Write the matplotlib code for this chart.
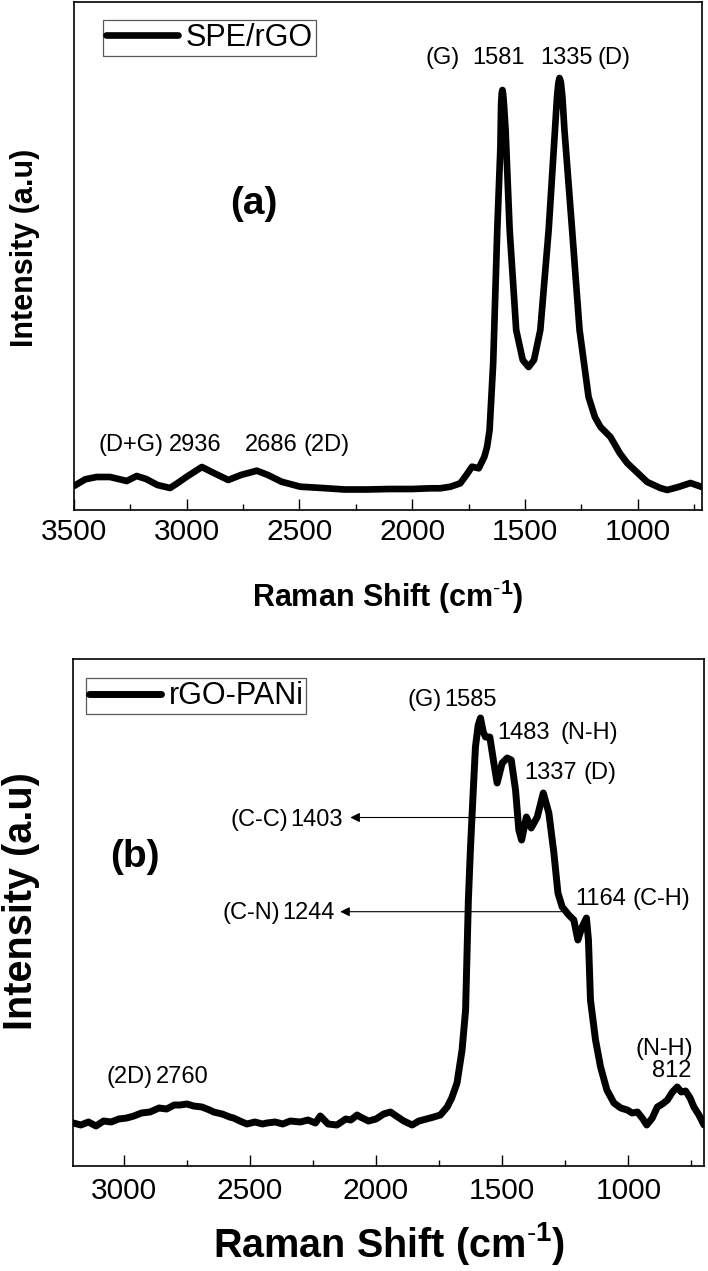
import matplotlib
matplotlib.use('Agg')
import matplotlib.pyplot as plt
from matplotlib.ticker import FixedLocator, MultipleLocator

plt.rcParams['font.family'] = ['Liberation Sans', 'DejaVu Sans']
plt.rcParams['mathtext.fontset'] = 'custom'
plt.rcParams['mathtext.rm'] = 'Liberation Sans'
plt.rcParams['mathtext.bf'] = 'Liberation Sans:bold'

# ---------------- data: panel (a) SPE/rGO ----------------
a_shift = [3500, 3450, 3400, 3340, 3266, 3222, 3180, 3130, 3074, 3040, 3000, 2933,
           2880, 2816, 2760, 2689, 2640, 2580, 2497, 2400, 2300, 2200, 2100, 2000,
           1920, 1876, 1830, 1787, 1760, 1735, 1705, 1680, 1668, 1657, 1641, 1623,
           1609, 1606, 1603, 1600, 1597, 1593, 1586, 1568, 1539, 1510, 1484, 1460,
           1432, 1395, 1367, 1358, 1352, 1347, 1341, 1334, 1325, 1291, 1258, 1218,
           1190, 1165, 1121, 1080, 1047, 1000, 958, 900, 869, 820, 766, 715]
a_intensity = [24, 30.7, 33, 33, 29, 34, 31, 25, 22, 27, 33.3, 43,
               37, 30, 35, 39.3, 35, 28.3, 23.3, 22, 20.5, 20.5, 21, 21,
               21.7, 21.7, 23.3, 26.7, 35, 43.3, 41.7, 53.3, 63.3, 80, 147, 280,
               363, 405, 417, 420, 416, 405, 380, 280, 180, 150, 143, 150,
               180, 280, 380, 413, 427, 432, 428, 413, 380, 280, 180, 113,
               93, 83, 73, 57, 47, 37, 28, 22, 20, 23, 27, 23]

# ---------------- data: panel (b) rGO-PANi ----------------
b_shift = [3200, 3170, 3140, 3110, 3080, 3050, 3020, 2988, 2960, 2930, 2896, 2860,
           2830, 2800, 2777, 2750, 2723, 2690, 2660, 2644, 2610, 2580, 2565, 2540,
           2512, 2480, 2450, 2433, 2400, 2370, 2340, 2300, 2270, 2240, 2221, 2190,
           2155, 2120, 2100, 2075, 2062, 2030, 2000, 1970, 1943, 1920, 1890, 1857,
           1830, 1800, 1771, 1745, 1718, 1700, 1679, 1659, 1645, 1640, 1634, 1626,
           1619, 1606, 1595, 1586, 1575, 1566, 1549, 1533, 1520, 1500, 1480, 1464,
           1447, 1434, 1423, 1404, 1385, 1361, 1337, 1315, 1295, 1279, 1262, 1236,
           1216, 1200, 1185, 1166, 1158, 1150, 1130, 1110, 1085, 1057, 1030, 1004,
           985, 964, 945, 927, 905, 885, 865, 845, 825, 806, 790, 773,
           755, 740, 720, 700]
b_intensity = [43, 41, 44, 40, 45, 44, 47, 48, 50, 53, 54, 58,
               57, 61, 61, 62, 60, 59, 56, 54, 52, 49, 48, 45,
               42, 44, 42, 43, 44, 42, 45, 44, 46, 43, 50, 42,
               41, 47, 46, 51, 49, 45, 47, 52, 54, 50, 45, 41,
               45, 47, 49, 51, 59, 68, 83, 116, 156, 206, 266, 316,
               353, 419, 441, 448, 434, 429, 429, 403, 383, 403, 408, 406,
               376, 336, 326, 349, 338, 349, 373, 353, 313, 273, 259, 251,
               246, 226, 238, 248, 226, 166, 126, 99, 76, 63, 58, 56,
               53, 54, 48, 41, 48, 59, 62, 66, 74, 79, 74, 75,
               68, 59, 51, 41]

a_ticks = [3500, 3000, 2500, 2000, 1500, 1000]
b_ticks = [3000, 2500, 2000, 1500, 1000]

# peak annotations: (text, shift of left edge, intensity of text centre)
a_notes = [("(G)", 1942, 452), ("1581", 1735, 452), ("1335", 1432, 452), ("(D)", 1180, 452),
           ("(D+G)", 3392, 65), ("2936", 3081, 65), ("2686", 2741, 65), ("(2D)", 2482, 65)]
b_notes = [("(G)", 1877, 466), ("1585", 1730, 466),
           ("1483", 1520, 433), ("(N-H)", 1269, 433),
           ("1337", 1414, 393), ("(D)", 1176, 393),
           ("(C-C)", 2578, 346), ("1403", 2340, 346),
           ("(C-N)", 2607, 253), ("1244", 2372, 253),
           ("1164", 1209, 267), ("(C-H)", 982, 267),
           ("(2D)", 3070, 89), ("2760", 2872, 89),
           ("(N-H)", 971, 117), ("812", 905, 95)]
# arrows: (tail shift, head shift, intensity)
b_arrows = [(1448, 2102, 348.5), (1265, 2142, 254.3)]

W, H = 708, 1271
fig = plt.figure(figsize=(W / 100, H / 100), dpi=100)
ax1 = fig.add_axes([74 / W, (H - 510) / H, 628 / W, 508 / H])
ax2 = fig.add_axes([73.3 / W, (H - 1166) / H, 630.7 / W, 507 / H])

xlabel = r'Raman Shift (cm$^{\mathbf{\text{-}1}}$)'


def style(ax, ticks, xlim, ylim, tick_pad):
    ax.set_xlim(*xlim)
    ax.set_ylim(*ylim)
    ax.xaxis.set_major_locator(FixedLocator(ticks))
    ax.xaxis.set_minor_locator(MultipleLocator(250))
    ax.set_xticklabels([str(t) for t in ticks])
    ax.tick_params(axis='x', which='major', direction='in', length=7.7, width=1.0,
                   labelsize=21.5, pad=tick_pad, top=False)
    ax.tick_params(axis='x', which='minor', direction='in', length=4, width=1.0, top=False)
    ax.tick_params(axis='y', which='both', left=False, right=False, labelleft=False)
    for s in ax.spines.values():
        s.set_linewidth(1.2)


# ---------- panel (a) ----------
ax1.plot(a_shift, a_intensity, color='black', lw=4.8, solid_capstyle='round',
         solid_joinstyle='round', label='SPE/rGO')
style(ax1, a_ticks, (3500, 715), (0, 508), 6)
ax1.set_xlabel(xlabel, fontsize=22, fontweight='bold', va='top')
ax1.xaxis.set_label_coords(0.5, -0.134)
ax1.set_ylabel('Intensity (a.u)', fontsize=22, fontweight='bold')
ax1.yaxis.set_label_coords(-0.054, 0.516)
for txt, x, y in a_notes:
    ax1.text(x, y, txt, fontsize=17, ha='left', va='center')
ax1.text(2701, 306, '(a)', fontsize=28, fontweight='bold', ha='center', va='center')
leg1 = ax1.legend(loc='upper left', bbox_to_anchor=(0.0467, 0.9646), borderaxespad=0,
                  fontsize=22, frameon=True, fancybox=False, borderpad=0.1,
                  handlelength=2.35, handletextpad=0.25, framealpha=1)
leg1.get_frame().set_edgecolor('0.35')
leg1.get_frame().set_linewidth(0.9)

# ---------- panel (b) ----------
ax2.plot(b_shift, b_intensity, color='black', lw=5.0, solid_capstyle='round',
         solid_joinstyle='round', label='rGO-PANi')
style(ax2, b_ticks, (3200, 700), (0, 507), 8)
ax2.set_xlabel(xlabel, fontsize=28.5, fontweight='bold', va='top')
ax2.xaxis.set_label_coords(0.5, -0.1065)
ax2.set_ylabel('Intensity (a.u)', fontsize=28.5, fontweight='bold')
ax2.yaxis.set_label_coords(-0.053, 0.523)
for txt, x, y in b_notes:
    ax2.text(x, y, txt, fontsize=17, ha='left', va='center')
for x0, x1, y in b_arrows:
    ax2.annotate('', xy=(x1, y), xytext=(x0, y),
                 arrowprops=dict(arrowstyle='-|>', color='black', lw=0.8,
                                 mutation_scale=14, shrinkA=0, shrinkB=0))
ax2.text(2957, 309, '(b)', fontsize=28, fontweight='bold', ha='center', va='center')
leg2 = ax2.legend(loc='upper left', bbox_to_anchor=(0.02, 0.962), borderaxespad=0,
                  fontsize=22, frameon=True, fancybox=False, borderpad=0.1,
                  handlelength=2.35, handletextpad=0.25, framealpha=1)
leg2.get_frame().set_edgecolor('0.35')
leg2.get_frame().set_linewidth(0.9)

fig.savefig('out.png', dpi=100)
